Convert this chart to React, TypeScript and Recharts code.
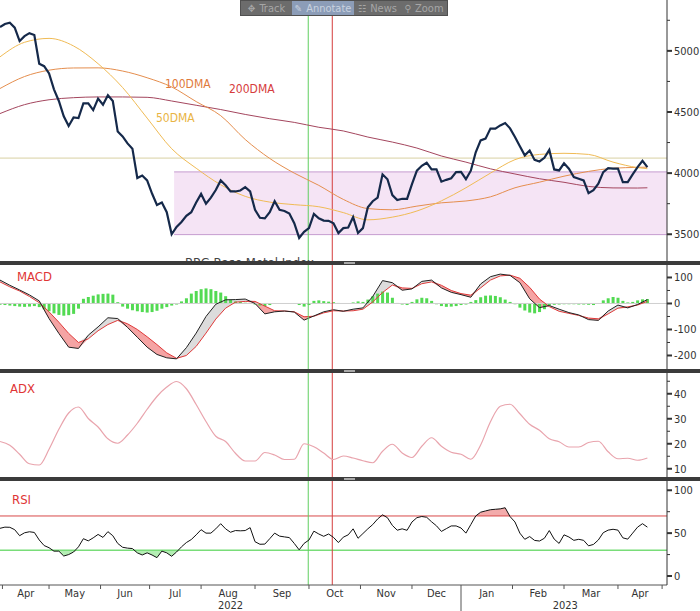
import React from "react";
import {
  ComposedChart,
  Line,
  Area,
  Bar,
  XAxis,
  YAxis,
  ReferenceLine,
  ReferenceArea,
} from "recharts";

const FONT = '"DejaVu Sans Condensed", "Liberation Sans Narrow", "DejaVu Sans", sans-serif';
const X_DOMAIN: [number, number] = [0, 272];

// trading-day index of each month start, Apr 2022 .. May 2023
const monthStarts = [1, 20, 41, 61, 82, 104, 126, 147, 168, 188, 209, 230, 252, 270];
const monthNames = ["Apr", "May", "Jun", "Jul", "Aug", "Sep", "Oct", "Nov", "Dec", "Jan", "Feb", "Mar", "Apr"];
const years = ["2022", "2023"];
const yearStart = 188;
const yearMids = [94, 230.5];
const monthMids = monthNames.map((_, i) => (monthStarts[i] + monthStarts[i + 1]) / 2);

// annotations
const markerGreen = 125.7;
const markerRed = 135.5;
const rangeStart = 71;
const rangeEnd = 272;
const rangeHigh = 4010;
const rangeLow = 3497;
const pivotLevel = 4123;

// BBG Base Metal Index, every 2nd trading day
const price = [
  5195, 5220, 5230, 5190, 5080, 5120, 5145, 5130, 4895, 4875,
  4815, 4685, 4590, 4465, 4385, 4455, 4450, 4570, 4570, 4515,
  4610, 4560, 4637, 4590, 4340, 4300, 4243, 4200, 3960, 3980,
  3940, 3833, 3740, 3760, 3680, 3500, 3560, 3600, 3650, 3680,
  3760, 3830, 3750, 3800, 3862, 3940, 3900, 3850, 3850, 3858,
  3885, 3850, 3700, 3635, 3630, 3680, 3770, 3700, 3690, 3670,
  3590, 3470, 3520, 3550, 3667, 3630, 3612, 3610, 3590, 3510,
  3550, 3555, 3640, 3510, 3550, 3720, 3770, 3800, 3990, 3950,
  3820, 3780, 3790, 3790, 3910, 4020, 4060, 4085, 4030, 4030,
  3930, 3945, 3958, 4008, 4010, 3950, 4020, 4170, 4268, 4282,
  4364, 4364, 4390, 4410, 4366, 4295, 4220, 4145, 4185, 4108,
  4095, 4125, 4190, 4030, 4022, 4080, 4036, 3967, 3954, 3940,
  3836, 3860, 3913, 4008, 4040, 4036, 4036, 3926, 3926, 3990,
  4049, 4100, 4049,
];

// moving averages, every 10th trading day
const maDays = [0, 10, 20, 30, 40, 50, 60, 70, 80, 90, 100, 110, 120, 130, 140, 150, 160, 170, 180, 190, 200, 210, 220, 230, 240, 250, 260, 264];
const ma50 = [4951, 5070, 5102, 5040, 4895, 4700, 4450, 4200, 4040, 3905, 3810, 3763, 3742, 3725, 3677, 3618, 3640, 3690, 3773, 3880, 4000, 4110, 4153, 4162, 4153, 4090, 4045, 4036];
const ma100 = [4692, 4790, 4842, 4860, 4861, 4835, 4780, 4705, 4585, 4470, 4275, 4120, 4000, 3900, 3785, 3710, 3700, 3730, 3757, 3772, 3806, 3880, 3926, 3975, 4014, 4040, 4047, 4049];
const ma200 = [4487, 4560, 4600, 4617, 4623, 4623, 4620, 4590, 4555, 4520, 4480, 4445, 4415, 4375, 4345, 4295, 4254, 4205, 4140, 4090, 4035, 3993, 3954, 3925, 3891, 3879, 3878, 3880];

// MACD and signal, every 4th trading day
const macd = [
  90, 70, 52, 33, 10, -58, -115, -168, -173, -122, -90, -55, -58, -92, -130, -168, -196,
  -209, -213, -170, -114, -50, -3, 14, 15, 17, 0, -40, -32, -29, -33, -64, -48, -32, -24,
  -30, -22, -17, 27, 88, 80, 51, 56, 85, 90, 60, 43, 34, 24, 75, 103, 113, 108, 80, 18,
  -16, -8, -22, -35, -44, -62, -65, -29, -6, -17, -4, 15,
];
const signal = [
  83, 64, 48, 27, 3, -32, -72, -115, -150, -136, -105, -81, -65, -78, -100, -128, -158,
  -190, -211, -200, -165, -114, -60, -18, 5, 8, 8, -10, -28, -29, -32, -51, -49, -36, -28,
  -29, -28, -22, 6, 42, 71, 60, 58, 76, 83, 70, 50, 38, 32, 60, 90, 106, 109, 97, 62,
  17, -12, -30, -38, -46, -56, -59, -40, -18, -13, -6, 8,
];
// MACD histogram, every 2nd trading day
const histogram = [
  -5, -6, -8, -10, -12, -13, -12, -10, -14, -22,
  -30, -38, -44, -47, -45, -40, -20, 18, 25, 30,
  35, 37, 38, 34, 5, -12, -20, -26, -30, -33,
  -35, -33, -28, -20, -14, -8, -4, 8, 20, 38,
  48, 55, 58, 55, 48, 42, 28, 14, 8, 6,
  3, -2, -4, -8, -10, -6, -2, 0, 0, 0,
  -2, -6, -12, -6, 10, 12, 9, 7, 5, 2,
  0, 0, 4, 8, 6, 15, 28, 38, 46, 42,
  22, 2, -4, -6, 6, 16, 22, 20, 10, -3,
  -10, -13, -12, -10, -6, -4, 6, 13, 24, 30,
  31, 29, 24, 15, 6, -3, -16, -27, -35, -38,
  -33, -22, -8, -5, -4, -3, -3, -3, -4, -4,
  -5, -6, 0, 12, 20, 25, 22, 10, 4, 6,
  12, 16, 17,
];

// ADX, every 4th trading day
const adx = [
  20.9, 19.4, 15.8, 12.0, 11.5, 17.8, 25.8, 32.3, 34.7, 30.1, 26.7, 22, 20.2, 23.5, 28.2,
  33.8, 38.9, 42.7, 44.9, 42, 35.7, 28.9, 23, 20.9, 16.2, 13.1, 13.1, 16.5, 15.5, 13.7,
  13.8, 20, 18.8, 16.3, 13.7, 15.1, 14.3, 13.2, 12.4, 17, 19.8, 16.3, 14.5, 19, 22.4,
  19, 16.6, 15.8, 13.8, 19.5, 28.8, 35, 35.8, 32, 27.8, 25.4, 22, 20.8, 18.7, 18.7,
  20.5, 21, 16.8, 14, 14.2, 13.4, 14.3,
];

// RSI, every 2nd trading day
const rsi = [
  55.6, 57, 56.8, 54, 47, 50.4, 51.6, 50.8, 42, 35.5,
  33, 29, 29, 23.3, 25, 28, 34, 43.5, 41, 44.5,
  48.5, 45, 51.7, 47, 38, 33.5, 32.5, 32, 27, 24.5,
  27, 24.5, 21.4, 29, 27, 23, 28, 34, 39, 42.5,
  48, 54, 50, 50, 55, 61, 55, 51, 53, 52.7,
  53, 56.4, 40, 37, 37.2, 43.5, 50, 46.5, 45.6, 44.8,
  38, 30.5, 38, 42, 52.3, 49, 46.3, 49, 45, 39,
  45.3, 48, 55, 44, 49.5, 55, 60, 66.5, 71.3, 68,
  59, 53.4, 55, 53.3, 63, 68, 69.4, 68.5, 63.2, 58.5,
  52, 55.2, 58.4, 58.4, 56, 50, 60, 70, 74.4, 75.9,
  77.3, 77.8, 78.3, 79.6, 69.3, 63, 50, 42.8, 46, 41.5,
  40.8, 44, 53, 43, 38, 48, 45.5, 41.6, 42.8, 41.6,
  35.2, 36.8, 42, 50.5, 53.5, 54.5, 53.5, 44.5, 43, 50,
  57, 61, 57,
];
const RSI_HIGH = 70;
const RSI_LOW = 30;

const priceTicks = [3500, 3750, 4000, 4250, 4500, 4750, 5000, 5250];
const priceLabels = [3500, 4000, 4500, 5000];
const macdTicks = [-200, -150, -100, -50, 0, 50, 100];
const macdLabels = [-200, -100, 0, 100];
const adxTicks = [10, 15, 20, 25, 30, 35, 40, 45];
const adxLabels = [10, 20, 30, 40];
const rsiTicks = [0, 25, 50, 75, 100];
const rsiLabels = [0, 50, 100];

// one row per 2nd trading day; slower series only on their own days
const priceRows = price.map((v, i) => {
  const t = i * 2;
  const m = maDays.indexOf(t);
  return {
    t,
    price: v,
    ma50: m >= 0 ? ma50[m] : null,
    ma100: m >= 0 ? ma100[m] : null,
    ma200: m >= 0 ? ma200[m] : null,
  };
});
const macdRows = histogram.map((h, i) => {
  const t = i * 2;
  const k = t % 4 === 0 ? t / 4 : -1;
  return {
    t,
    hist: h,
    macd: k >= 0 ? macd[k] : null,
    sig: k >= 0 ? signal[k] : null,
  };
});
const adxRows = adx.map((v, i) => ({ t: i * 4, v }));
const rsiRows = rsi.map((v, i) => ({ t: i * 2, v }));

const xTicks = [...monthStarts, ...monthMids, ...yearMids].sort((a, b) => a - b);
const MARGIN = { top: 0, right: 0, bottom: 0, left: 0 };

const yTick = (labels: number[]) => (props: any) => {
  const { x, y, payload } = props;
  const v = payload.value;
  const major = labels.includes(v);
  return (
    <g>
      <line x1={x} y1={y} x2={x + (major ? 5 : 3)} y2={y} stroke="#333" strokeWidth={major ? 2 : 1} />
      {major && (
        <text x={x + 7} y={y} dy="0.36em" textAnchor="start" fontSize={11} fill="#333" fontFamily={FONT}>
          {v}
        </text>
      )}
    </g>
  );
};

const xTick = (props: any) => {
  const { x, y, payload } = props;
  const v = payload.value;
  if (monthStarts.includes(v)) {
    return <line x1={x} y1={y} x2={x} y2={y + (v === yearStart ? 26 : 4)} stroke="#555" />;
  }
  const mi = monthMids.indexOf(v);
  if (mi >= 0) {
    return (
      <text x={x} y={y + 12} textAnchor="middle" fontSize={11} fill="#333" fontFamily={FONT}>
        {monthNames[mi]}
      </text>
    );
  }
  const yi = yearMids.indexOf(v);
  if (yi >= 0) {
    return (
      <text x={x} y={y + 24} textAnchor="middle" fontSize={11} fill="#333" fontFamily={FONT}>
        {years[yi]}
      </text>
    );
  }
  return <g />;
};

const hiddenX = <XAxis dataKey="t" type="number" domain={X_DOMAIN} hide allowDataOverflow />;

const markers = [
  <ReferenceLine key="g" x={markerGreen} stroke="#5fcf5f" strokeWidth={1} />,
  <ReferenceLine key="r" x={markerRed} stroke="#d53c3c" strokeWidth={1} />,
];

const rightAxis = (domain: [number, number], ticks: number[], labels: number[]) => (
  <YAxis
    orientation="right"
    width={33}
    domain={domain}
    ticks={ticks}
    interval={0}
    allowDataOverflow
    tickLine={false}
    tickSize={0}
    tickMargin={0}
    axisLine={{ stroke: "#333" }}
    tick={yTick(labels)}
  />
);

const panelStyle = (top: number, height: number): React.CSSProperties => ({
  position: "absolute",
  left: 0,
  top,
  width: 700,
  height,
  overflow: "hidden",
});

const label = (left: number, top: number, color: string, size = 12): React.CSSProperties => ({
  position: "absolute",
  left,
  top,
  color,
  fontSize: size,
  fontFamily: FONT,
  lineHeight: "14px",
  whiteSpace: "nowrap",
});

function Separator({ top }: { top: number }) {
  return (
    <div style={{ position: "absolute", left: 0, top, width: 700, height: 4, background: "#3b3b3b", zIndex: 5 }}>
      <div style={{ position: "absolute", left: 344, top: 1, width: 11, height: 2, background: "#a8a8a8" }} />
    </div>
  );
}

function Toolbar() {
  const seg = (w: number, icon: string, text: string, active = false) => (
    <div
      style={{
        width: w,
        height: "100%",
        display: "flex",
        alignItems: "center",
        justifyContent: "center",
        gap: 4,
        background: active ? "#8c9db8" : "transparent",
        color: active ? "#c9d2df" : "#a6a6a6",
      }}
    >
      <span style={{ fontSize: 10 }}>{icon}</span>
      <span>{text}</span>
    </div>
  );
  return (
    <div
      style={{
        position: "absolute",
        left: 240,
        top: 0,
        width: 208,
        height: 16,
        background: "#6c6c6c",
        border: "1px solid #505050",
        boxSizing: "border-box",
        display: "flex",
        fontFamily: FONT,
        fontSize: 11,
        zIndex: 10,
      }}
    >
      {seg(51, "\u2725", "Track")}
      {seg(62, "\u270E", "Annotate", true)}
      {seg(47, "\u2637", "News")}
      {seg(46, "\u26B2", "Zoom")}
    </div>
  );
}

export default function App() {
  return (
    <div style={{ position: "absolute", left: 0, top: 0, width: 700, height: 611, background: "#fff" }}>
      {/* price panel */}
      <div style={panelStyle(0, 262)}>
        <ComposedChart width={700} height={262} data={priceRows} margin={MARGIN}>
          {hiddenX}
          {rightAxis([3273, 5416], priceTicks, priceLabels)}
          <ReferenceArea x1={rangeStart} x2={rangeEnd} y1={rangeLow} y2={rangeHigh} fill="#f5e4f5" fillOpacity={1} stroke="none" />
          <ReferenceLine segment={[{ x: rangeStart, y: rangeHigh }, { x: rangeEnd, y: rangeHigh }]} stroke="#c59bcf" />
          <ReferenceLine segment={[{ x: rangeStart, y: rangeLow }, { x: rangeEnd, y: rangeLow }]} stroke="#c59bcf" />
          <ReferenceLine y={pivotLevel} stroke="#d8d0a2" />
          {markers}
          <Line dataKey="ma200" type="monotone" connectNulls stroke="#a4465e" strokeWidth={1} dot={false} activeDot={false} isAnimationActive={false} />
          <Line dataKey="ma100" type="monotone" connectNulls stroke="#e58e4e" strokeWidth={1} dot={false} activeDot={false} isAnimationActive={false} />
          <Line dataKey="ma50" type="monotone" connectNulls stroke="#f0bb55" strokeWidth={1} dot={false} activeDot={false} isAnimationActive={false} />
          <Line dataKey="price" type="linear" stroke="#15294a" strokeWidth={2.2} dot={false} activeDot={false} isAnimationActive={false} />
        </ComposedChart>
        <div style={label(165, 77, "#e07a3c")}>100DMA</div>
        <div style={label(229, 82, "#d63c3c")}>200DMA</div>
        <div style={label(156, 111, "#e9b443")}>50DMA</div>
        <div style={label(185, 256, "#444", 13)}>BBG Base Metal Index</div>
      </div>

      {/* MACD panel */}
      <div style={panelStyle(265, 104)}>
        <ComposedChart width={700} height={104} data={macdRows} margin={MARGIN}>
          {hiddenX}
          {rightAxis([-252, 148], macdTicks, macdLabels)}
          <ReferenceLine y={0} stroke="#cfcfcf" />
          <Bar dataKey="hist" fill="#52da52" barSize={3} isAnimationActive={false} />
          <Area
            dataKey={(d: any) => (d.macd == null ? null : d.macd >= d.sig ? [d.sig, d.macd] : [d.sig, d.sig])}
            type="linear"
            connectNulls
            stroke="none"
            fill="#dcdcdc"
            fillOpacity={1}
            activeDot={false}
            isAnimationActive={false}
          />
          <Area
            dataKey={(d: any) => (d.macd == null ? null : d.macd < d.sig ? [d.macd, d.sig] : [d.sig, d.sig])}
            type="linear"
            connectNulls
            stroke="none"
            fill="#f5a4a4"
            fillOpacity={1}
            activeDot={false}
            isAnimationActive={false}
          />
          <Line dataKey="sig" type="linear" connectNulls stroke="#e03a3a" strokeWidth={1} dot={false} activeDot={false} isAnimationActive={false} />
          <Line dataKey="macd" type="linear" connectNulls stroke="#222" strokeWidth={1} dot={false} activeDot={false} isAnimationActive={false} />
          {markers}
        </ComposedChart>
        <div style={label(17, 5, "#e03535", 13)}>MACD</div>
      </div>

      {/* ADX panel */}
      <div style={panelStyle(373, 104)}>
        <ComposedChart width={700} height={104} data={adxRows} margin={MARGIN}>
          {hiddenX}
          {rightAxis([6.7, 48.3], adxTicks, adxLabels)}
          {markers}
          <Line dataKey="v" type="monotone" stroke="#e9a4ad" strokeWidth={1.2} dot={false} activeDot={false} isAnimationActive={false} />
        </ComposedChart>
        <div style={label(10, 9, "#e03535", 13)}>ADX</div>
      </div>

      {/* RSI panel with the date axis */}
      <div style={panelStyle(481, 130)}>
        <ComposedChart width={700} height={130} data={rsiRows} margin={MARGIN}>
          <XAxis
            dataKey="t"
            type="number"
            domain={X_DOMAIN}
            allowDataOverflow
            ticks={xTicks}
            interval={0}
            height={26}
            tickLine={false}
            tickSize={0}
            tickMargin={0}
            axisLine={{ stroke: "#555" }}
            tick={xTick}
          />
          {rightAxis([-10.5, 110.8], rsiTicks, rsiLabels)}
          <Area
            dataKey={(d: any) => [Math.min(d.v, RSI_LOW), RSI_LOW]}
            type="linear"
            stroke="none"
            fill="#b4eeb4"
            fillOpacity={1}
            activeDot={false}
            isAnimationActive={false}
          />
          <Area
            dataKey={(d: any) => [RSI_HIGH, Math.max(d.v, RSI_HIGH)]}
            type="linear"
            stroke="none"
            fill="#f3abab"
            fillOpacity={1}
            activeDot={false}
            isAnimationActive={false}
          />
          <ReferenceLine y={RSI_HIGH} stroke="#d84848" />
          <ReferenceLine y={RSI_LOW} stroke="#79dd79" strokeWidth={1.5} />
          {markers}
          <Line dataKey="v" type="linear" stroke="#111" strokeWidth={1} dot={false} activeDot={false} isAnimationActive={false} />
        </ComposedChart>
        <div style={label(12, 12, "#e03535", 13)}>RSI</div>
      </div>

      <Separator top={261} />
      <Separator top={369} />
      <Separator top={477} />
      <Toolbar />
    </div>
  );
}
